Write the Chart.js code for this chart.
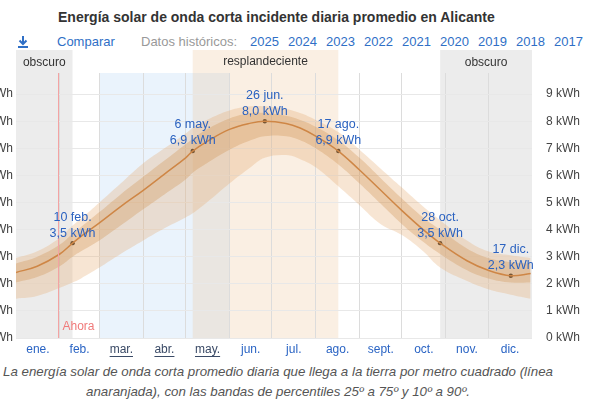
<!DOCTYPE html>
<html>
<head>
<meta charset="utf-8">
<script src="https://cdn.jsdelivr.net/npm/chart.js@4"></script>
<style>
  body { margin: 0; width: 605px; height: 405px; overflow: hidden; background: #fff; position: relative;
         font-family: "Liberation Sans", Arial, sans-serif; }
  #title { position: absolute; left: 58px; top: 9px; font-size: 14px; font-weight: bold; color: #333; white-space: nowrap; }
  #tools { position: absolute; left: 0; top: 34px; font-size: 13px; white-space: nowrap; height: 18px; }
  #tools span { position: absolute; top: 0; }
  .blue { color: #2f6fc6; }
  .gray { color: #999; }
  #wrap { position: absolute; left: -30px; top: 48px; width: 612px; height: 312px; }
  #caption { position: absolute; top: 362px; left: 0; width: 556px; text-align: center; font-style: italic;
             font-size: 13.3px; color: #555; line-height: 20px; white-space: nowrap; }
</style>
</head>
<body>
<div id="title">Energía solar de onda corta incidente diaria promedio en Alicante</div>
<div id="tools">
  <svg style="position:absolute;left:17px;top:1px" width="12" height="14" viewBox="0 0 12 14">
    <path d="M6 1 V9 M2.5 5.5 L6 9 L9.5 5.5" stroke="#2f6fc6" stroke-width="2" fill="none"/>
    <rect x="1" y="11" width="10" height="2" fill="#2f6fc6"/>
  </svg>
  <span class="blue" style="left:57px">Comparar</span>
  <span class="gray" style="left:141px">Datos históricos:</span>
  <span id="years"></span>
</div>
<div id="wrap"><canvas id="chart"></canvas></div>
<div id="caption">La energía solar de onda corta promedio diaria que llega a la tierra por metro cuadrado (línea<br>anaranjada), con las bandas de percentiles 25º a 75º y 10º a 90º.</div>

<script>
const years = ["2025", "2024", "2023", "2022", "2021", "2020", "2019", "2018", "2017"];

const monthLabels = ["ene.", "feb.", "mar.", "abr.", "may.", "jun.", "jul.", "ago.", "sept.", "oct.", "nov.", "dic."];
const monthStarts = [0, 31, 59, 90, 120, 151, 181, 212, 243, 273, 304, 334, 365];
const selectedMonths = [2, 3, 4];

// day of year (0 = 1 ene.)
const days = [0, 15, 31, 40, 46, 59, 74, 90, 105, 120, 125, 135, 151, 166, 176, 191, 201, 212, 228, 243, 258, 273, 288, 300, 319, 334, 350, 364];
const mean = [2.42, 2.65, 3.1, 3.5, 3.75, 4.25, 4.85, 5.45, 6.05, 6.65, 6.9, 7.25, 7.7, 7.93, 8.0, 7.92, 7.75, 7.45, 6.9, 6.2, 5.45, 4.7, 4.0, 3.5, 2.85, 2.5, 2.3, 2.38];
const p90 = [2.95, 3.2, 3.7, 4.15, 4.4, 5.0, 5.7, 6.45, 7.0, 7.55, 7.75, 8.05, 8.4, 8.55, 8.55, 8.45, 8.3, 8.05, 7.6, 6.95, 6.25, 5.55, 4.85, 4.35, 3.6, 3.2, 3.05, 2.95];
const p75 = [2.75, 3.0, 3.45, 3.85, 4.1, 4.65, 5.3, 5.95, 6.55, 7.15, 7.35, 7.7, 8.1, 8.3, 8.3, 8.2, 8.05, 7.8, 7.3, 6.65, 5.9, 5.15, 4.45, 4.0, 3.3, 2.95, 2.8, 2.75];
const p25 = [2.05, 2.25, 2.65, 3.0, 3.2, 3.6, 4.15, 4.75, 5.3, 5.85, 6.1, 6.45, 6.95, 7.3, 7.45, 7.45, 7.3, 7.0, 6.4, 5.7, 4.95, 4.2, 3.55, 3.1, 2.5, 2.2, 2.05, 2.05];
const p10 = [1.45, 1.55, 1.85, 2.05, 2.2, 2.6, 3.1, 3.6, 4.05, 4.45, 4.6, 5.0, 5.7, 6.3, 6.65, 6.75, 6.6, 6.3, 5.6, 4.9, 4.2, 3.8, 3.2, 2.6, 2.1, 1.8, 1.6, 1.45];

const markDays = [40, 125, 176, 228, 300, 350];
const markValues = [3.5, 6.9, 8.0, 6.9, 3.5, 2.3];
const markDates = ["10 feb.", "6 may.", "26 jun.", "17 ago.", "28 oct.", "17 dic."];

const darkPeriods = [[0, 40], [300, 365]];
const brightPeriod = [125, 228];
const nowDay = 30;

function renderYears() {
  const holder = document.getElementById("years");
  years.forEach((y, i) => {
    const s = document.createElement("span");
    s.className = "blue";
    s.style.left = (250 + i * 38) + "px";
    s.textContent = y;
    holder.appendChild(s);
  });
}

const toPoints = (values) => values.map((v, i) => ({ x: days[i], y: v }));
const fmt = (v) => v.toFixed(1).replace(".", ",") + " kWh";

const bandsPlugin = {
  id: "bands",
  beforeDraw(chart) {
    const { ctx, chartArea: a, scales } = chart;
    const x = scales.x;
    const headTop = a.top - 23;
    ctx.save();
    // selected months
    ctx.fillStyle = "rgba(160,200,240,0.22)";
    const s0 = x.getPixelForValue(monthStarts[selectedMonths[0]]);
    const s1 = x.getPixelForValue(monthStarts[selectedMonths[selectedMonths.length - 1] + 1]);
    ctx.fillRect(s0, a.top, s1 - s0, a.bottom - a.top);
    // bright period
    ctx.fillStyle = "rgba(232,180,128,0.22)";
    const b0 = x.getPixelForValue(brightPeriod[0]);
    const b1 = x.getPixelForValue(brightPeriod[1]);
    ctx.fillRect(b0, headTop, b1 - b0, a.bottom - headTop);
    // dark periods
    ctx.fillStyle = "rgba(0,0,0,0.075)";
    darkPeriods.forEach((p) => {
      const d0 = x.getPixelForValue(p[0]);
      const d1 = x.getPixelForValue(p[1]);
      ctx.fillRect(d0, headTop, d1 - d0, a.bottom - headTop);
    });
    ctx.fillStyle = "#333";
    ctx.font = '12px "Liberation Sans", Arial, sans-serif';
    ctx.textAlign = "center";
    ctx.textBaseline = "middle";
    darkPeriods.forEach((p) => {
      ctx.fillText("obscuro", (x.getPixelForValue(p[0]) + x.getPixelForValue(p[1])) / 2, headTop + 13);
    });
    ctx.fillText("resplandeciente", (b0 + b1) / 2, headTop + 12);
    ctx.restore();
  },
  afterDatasetsDraw(chart) {
    const { ctx, chartArea: a, scales } = chart;
    const x = scales.x;
    ctx.save();
    // now line
    const nx = Math.round(x.getPixelForValue(nowDay)) + 0.5;
    ctx.strokeStyle = "#f3a3a3";
    ctx.lineWidth = 1;
    ctx.beginPath();
    ctx.moveTo(nx, a.top);
    ctx.lineTo(nx, a.bottom);
    ctx.stroke();
    ctx.font = '12px "Liberation Sans", Arial, sans-serif';
    ctx.fillStyle = "#f07a7a";
    ctx.textBaseline = "middle";
    ctx.fillText("Ahora", nx + 4, a.bottom - 11);
    // mark labels
    const meta = chart.getDatasetMeta(5);
    ctx.fillStyle = "#2b62c0";
    ctx.textAlign = "center";
    ctx.font = '12.5px "Liberation Sans", Arial, sans-serif';
    meta.data.forEach((pt, i) => {
      ctx.fillText(markDates[i], pt.x, pt.y - 26);
      ctx.fillText(fmt(markValues[i]), pt.x, pt.y - 10);
    });
    // underline selected months
    const x2 = scales.x2;
    ctx.strokeStyle = "#3a4a66";
    ctx.font = '12px "Liberation Sans", Arial, sans-serif';
    selectedMonths.forEach((m) => {
      const cx = x2.getPixelForValue((monthStarts[m] + monthStarts[m + 1]) / 2);
      const w = ctx.measureText(monthLabels[m]).width;
      ctx.beginPath();
      ctx.moveTo(cx - w / 2, a.bottom + 18.5);
      ctx.lineTo(cx + w / 2, a.bottom + 18.5);
      ctx.stroke();
    });
    ctx.restore();
  },
};

function main() {
  renderYears();
  const axisFont = { family: '"Liberation Sans", Arial, sans-serif', size: 12 };
  const yTicks = { stepSize: 1, includeBounds: false, color: "#444", font: axisFont, callback: (v) => v + " kWh" };

  new Chart(document.getElementById("chart"), {
    type: "line",
    data: {
      datasets: [
        { data: toPoints(p10), borderWidth: 0, pointRadius: 0, fill: false, tension: 0.4 },
        { data: toPoints(p90), borderWidth: 0, pointRadius: 0, fill: "-1", backgroundColor: "rgba(230,170,110,0.30)", tension: 0.4 },
        { data: toPoints(p25), borderWidth: 0, pointRadius: 0, fill: false, tension: 0.4 },
        { data: toPoints(p75), borderWidth: 0, pointRadius: 0, fill: "-1", backgroundColor: "rgba(200,140,80,0.34)", tension: 0.4 },
        { data: toPoints(mean), borderColor: "#c46d28", borderWidth: 1.5, pointRadius: 0, fill: false, tension: 0.4 },
        {
          type: "scatter",
          data: markDays.map((d, i) => ({ x: d, y: markValues[i] })),
          pointRadius: 2.2,
          backgroundColor: "#000",
          borderWidth: 0,
        },
      ],
    },
    options: {
      responsive: true,
      maintainAspectRatio: false,
      animation: false,
      layout: { padding: { top: 25 } },
      plugins: { legend: { display: false }, tooltip: { enabled: false } },
      scales: {
        x: {
          type: "linear", min: 0, max: 365,
          ticks: { display: false },
          grid: { color: "#dcdcdc", drawTicks: false },
          border: { display: false },
          afterBuildTicks: (s) => { s.ticks = monthStarts.slice(1, -1).map((v) => ({ value: v })); },
          afterFit: (s) => { s.height = 0; },
        },
        x2: {
          type: "linear", position: "bottom", min: 0, max: 365,
          grid: { display: false, drawTicks: false },
          border: { display: false },
          ticks: {
            padding: 4,
            font: axisFont,
            maxRotation: 0,
            autoSkip: false,
            color: (c) => (selectedMonths.includes(c.index) ? "#3a4a66" : "#2a64c4"),
            callback: (v, i) => monthLabels[i],
          },
          afterBuildTicks: (s) => {
            s.ticks = monthLabels.map((m, i) => ({ value: (monthStarts[i] + monthStarts[i + 1]) / 2 }));
          },
          afterFit: (s) => { s.height = 22; },
        },
        y: {
          position: "left", min: 0, max: 9.78,
          ticks: { ...yTicks, padding: 3 },
          grid: { color: "#e8e8e8", drawTicks: false },
          border: { display: false },
          afterFit: (s) => { s.width = 46; },
        },
        y2: {
          position: "right", min: 0, max: 9.78,
          ticks: { ...yTicks, padding: 6 },
          grid: { display: false },
          border: { display: false },
          afterFit: (s) => { s.width = 50; },
        },
      },
    },
    plugins: [bandsPlugin],
  });
}

document.addEventListener("DOMContentLoaded", () => main());
</script>
</body>
</html>
